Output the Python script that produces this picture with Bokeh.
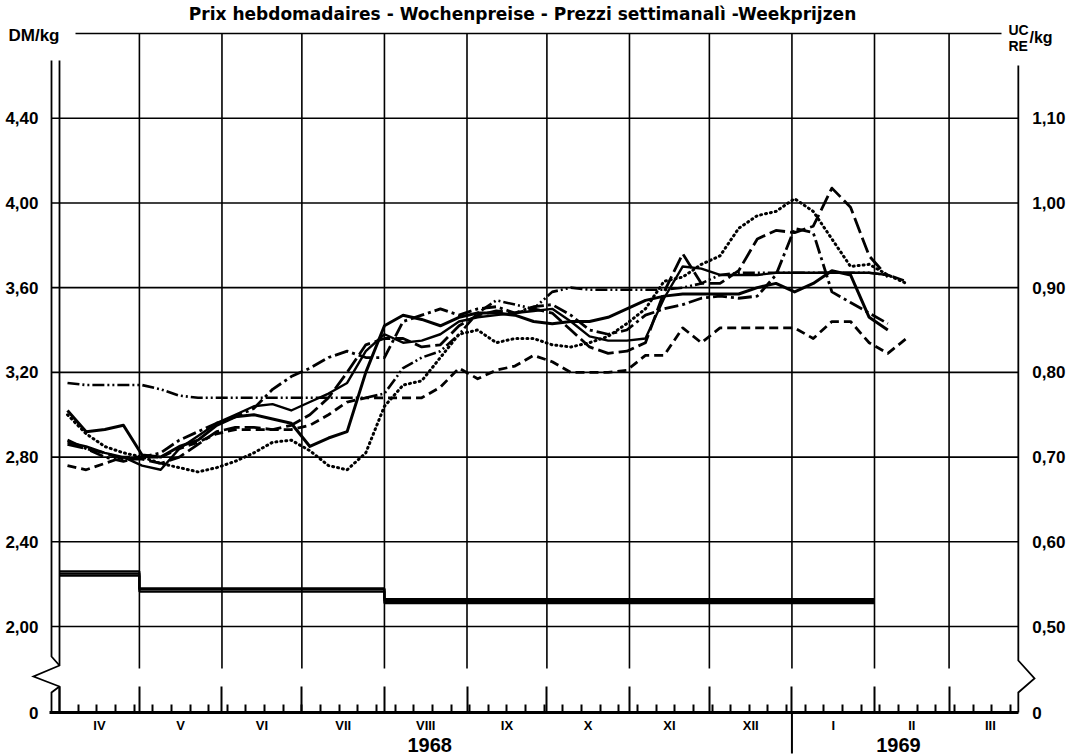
from bokeh.plotting import figure
from bokeh.models import Range1d, LinearAxis, FixedTicker
from bokeh.core.properties import value
from bokeh.embed import file_html
from bokeh.resources import INLINE

# ---------------- data ----------------
TITLE = "Prix hebdomadaires - Wochenpreise - Prezzi  settimanalì -Weekprijzen"
MONTHS = ["IV", "V", "VI", "VII", "VIII", "IX", "X", "XI", "XII", "I", "II", "III"]
MONTH_BOUNDS = [0, 30, 61, 91, 122, 153, 183, 214, 244, 275, 306, 334, 365]  # days since 1 Apr 1968
YEAR_START_DAY = 275
AXIS_END_DAY = 360
YEARS = ["1968", "1969"]
YEAR_DAYS = [139, 315]
WEEK_TICKS = list(range(7, 358, 7))

DM_TICKS = [2.00, 2.40, 2.80, 3.20, 3.60, 4.00, 4.40]
DM_TOP = 4.80
UC_PER_DM = 0.25

# weekly observations (days since 1 Apr 1968)
WEEK_DAYS = list(range(3, 322, 7))

s_dashdotdot = [3.15, 3.14, 3.14, 3.14, 3.14, 3.12, 3.09, 3.08, 3.08, 3.08,
                3.08, 3.08, 3.08, 3.08, 3.08, 3.08, 3.08, 3.10, 3.22, 3.27,
                3.30, 3.38, 3.48, 3.54, 3.52, 3.50, 3.58, 3.60, 3.59, 3.59,
                3.59, 3.59, 3.59, 3.60, 3.62, 3.66, 3.67, 3.67, 3.67, 3.67,
                3.67, 3.67, 3.67, 3.67, 3.66, 3.63]
s_dotted = [3.00, 2.91, 2.85, 2.82, 2.80, 2.77, 2.75, 2.73, 2.75, 2.78,
            2.82, 2.87, 2.88, 2.83, 2.76, 2.74, 2.82, 3.04, 3.14, 3.16,
            3.27, 3.38, 3.40, 3.34, 3.36, 3.36, 3.33, 3.32, 3.34, 3.37,
            3.43, 3.50, 3.63, 3.65, 3.71, 3.75, 3.88, 3.94, 3.96, 4.02,
            3.96, 3.83, 3.70, 3.71, 3.66, 3.62]
s_dashed = [2.76, 2.74, 2.77, 2.80, 2.80, 2.80, 2.84, 2.87, 2.91, 2.93,
            2.93, 2.93, 2.93, 2.95, 3.00, 3.06, 3.08, 3.08, 3.08, 3.08,
            3.13, 3.22, 3.17, 3.21, 3.23, 3.28, 3.25, 3.20, 3.20, 3.20,
            3.21, 3.28, 3.28, 3.41, 3.34, 3.41, 3.41, 3.41, 3.41, 3.41,
            3.36, 3.44, 3.44, 3.34, 3.29, 3.36]
s_solid_a = [3.02, 2.92, 2.93, 2.95, 2.81, 2.80, 2.85, 2.88, 2.95, 2.99,
             3.00, 2.98, 2.96, 2.85, 2.89, 2.92, 3.20, 3.42, 3.47, 3.45,
             3.42, 3.46, 3.48, 3.48, 3.47, 3.44, 3.43, 3.44, 3.44, 3.46,
             3.50, 3.54, 3.56, 3.57, 3.57, 3.57, 3.57, 3.60, 3.62, 3.58,
             3.62, 3.68, 3.66, 3.46, 3.40]
s_solid_b = [2.87, 2.85, 2.82, 2.80, 2.76, 2.74, 2.84, 2.90, 2.96, 3.00,
             3.04, 3.05, 3.02, 3.06, 3.10, 3.15, 3.30, 3.38, 3.34, 3.35,
             3.38, 3.44, 3.46, 3.47, 3.48, 3.49, 3.50, 3.44, 3.37, 3.35,
             3.35, 3.36, 3.55, 3.70, 3.69, 3.66, 3.66, 3.66, 3.67, 3.67,
             3.67, 3.67, 3.67, 3.67, 3.66]
s_longdash = [2.86, 2.84, 2.82, 2.79, 2.79, 2.77, 2.80, 2.86, 2.92, 2.94,
              2.94, 2.93, 2.95, 3.00, 3.08, 3.20, 3.33, 3.36, 3.36, 3.32,
              3.33, 3.42, 3.47, 3.49, 3.48, 3.50, 3.48, 3.40, 3.32, 3.29,
              3.30, 3.34, 3.58, 3.76, 3.62, 3.62, 3.68, 3.83, 3.87, 3.86,
              3.89, 4.07, 3.98, 3.75, 3.65]
s_dashdot = [2.88, 2.84, 2.80, 2.78, 2.80, 2.82, 2.88, 2.92, 2.96, 2.99,
             3.03, 3.12, 3.18, 3.22, 3.27, 3.30, 3.27, 3.27, 3.44, 3.47,
             3.50, 3.47, 3.50, 3.51, 3.48, 3.51, 3.52, 3.47, 3.40, 3.38,
             3.40, 3.47, 3.50, 3.52, 3.55, 3.56, 3.55, 3.56, 3.66, 3.88,
             3.86, 3.58, 3.53, 3.48, 3.43]

# step prices (per period)
STEP_DAYS = [0, 30, 122, 306]
step_a = [2.26, 2.18, 2.13]
step_b = [2.25, 2.175, 2.12]
step_c = [2.24, 2.165, 2.11]

# ---------------- geometry ----------------
W, H = 1071, 756
PX_PER_DAY = 2.6634
PX_PER_DM = 211.79
X_START = -59 / PX_PER_DAY
X_END = X_START + W / PX_PER_DAY
Y_END = DM_TOP + 33 / PX_PER_DM
Y_START = Y_END - H / PX_PER_DM


def dx(px):
    return (px - 59) / PX_PER_DAY


def vy(py):
    return DM_TOP - (py - 33) / PX_PER_DM


ZERO_POS = vy(712)
GAP_TOP = vy(668)

FONT = "Liberation Sans"

p = figure(width=W, height=H, x_range=Range1d(X_START, X_END),
           y_range=Range1d(Y_START, Y_END), output_backend="svg",
           toolbar_location=None, x_axis_location=None, y_axis_location=None,
           min_border=0, outline_line_color=None)
p.grid.grid_line_color = None
p.extra_y_ranges = {"uc": Range1d(Y_START * UC_PER_DM, Y_END * UC_PER_DM)}

GRID = dict(line_color="black", line_width=1.6)
# horizontal grid
p.segment(x0=[dx(51)] * len(DM_TICKS), y0=DM_TICKS, x1=[AXIS_END_DAY] * len(DM_TICKS), y1=DM_TICKS, **GRID)
p.segment(x0=[dx(75)], y0=[DM_TOP], x1=[dx(1001)], y1=[DM_TOP], **GRID)
# vertical grid (month boundaries), broken above the zero line
inner = MONTH_BOUNDS[1:-1]
p.segment(x0=inner, y0=[GAP_TOP] * len(inner), x1=inner, y1=[DM_TOP] * len(inner), **GRID)
p.segment(x0=[YEAR_START_DAY], y0=[ZERO_POS], x1=[YEAR_START_DAY], y1=[vy(753)], line_color="black", line_width=2)

# left double axis with break
AX = dict(line_color="black", line_width=1.8, line_join="miter")
p.line([dx(51), dx(51), dx(59)], [vy(60), vy(656), vy(665)], **AX)
p.line([dx(59), dx(59), dx(33), dx(59), dx(59)], [vy(60), vy(665), vy(676), vy(686), vy(712)], **AX)
p.line([dx(59), dx(51), dx(51)], [vy(686), vy(692), vy(712)], **AX)
# right axis with break
p.line([AXIS_END_DAY, AXIS_END_DAY, dx(1034), AXIS_END_DAY, AXIS_END_DAY],
       [vy(65), vy(660), vy(678), vy(692), vy(712)], **AX)

# step prices
for s in (step_a, step_b, step_c):
    p.step(STEP_DAYS, s + [s[-1]], mode="after", line_color="black", line_width=2.2)

# weekly price series
def draw(vals, **kw):
    p.line(WEEK_DAYS[:len(vals)], vals, line_color="black", line_join="round", **kw)

draw(s_dotted, line_width=3.0, line_dash="1 4", line_cap="round")
draw(s_dashed, line_width=2.8, line_dash="9 5")
draw(s_dashdotdot, line_width=2.6, line_dash="12 3 2 3 2 3")
draw(s_longdash, line_width=2.8, line_dash="16 5")
draw(s_dashdot, line_width=2.8, line_dash="14 4 3 4")
draw(s_solid_b, line_width=2.4)
draw(s_solid_a, line_width=3.0)

# axes
def fmt(v):
    return f"{v:.2f}".replace(".", ",")

left_labels = {t: fmt(t) for t in DM_TICKS}
left_labels[ZERO_POS] = "0"
left_axis = LinearAxis(fixed_location=0, ticker=FixedTicker(ticks=DM_TICKS + [ZERO_POS]),
                       major_label_overrides=left_labels, axis_line_color=None,
                       major_tick_line_color=None, minor_tick_line_color=None,
                       major_label_standoff=15, major_label_text_font=FONT,
                       major_label_text_font_style="bold", major_label_text_font_size="17px",
                       major_label_text_color="black")
p.add_layout(left_axis, "left")

uc_ticks = [t * UC_PER_DM for t in DM_TICKS]
right_labels = {t: fmt(t) for t in uc_ticks}
right_labels[ZERO_POS * UC_PER_DM] = "0"
right_axis = LinearAxis(y_range_name="uc", fixed_location=AXIS_END_DAY,
                        ticker=FixedTicker(ticks=uc_ticks + [ZERO_POS * UC_PER_DM]),
                        major_label_overrides=right_labels, axis_line_color=None,
                        major_tick_line_color=None, minor_tick_line_color=None,
                        major_label_standoff=8, major_label_text_font=FONT,
                        major_label_text_font_style="bold", major_label_text_font_size="17px",
                        major_label_text_color="black")
p.add_layout(right_axis, "right")

bottom_axis = LinearAxis(fixed_location=ZERO_POS, bounds=(dx(49), AXIS_END_DAY),
                         ticker=FixedTicker(ticks=MONTH_BOUNDS[:-1], minor_ticks=WEEK_TICKS),
                         major_tick_in=26, major_tick_out=0, minor_tick_in=8, minor_tick_out=0,
                         major_tick_line_width=2, minor_tick_line_width=2,
                         axis_line_width=3, major_label_text_color=None)
p.add_layout(bottom_axis, "below")

# texts
centers = [(a + b) / 2 for a, b in zip(MONTH_BOUNDS[:-1], MONTH_BOUNDS[1:])]
p.text(x=centers, y=[vy(725)] * len(MONTHS), text=MONTHS, text_font=value(FONT),
       text_font_style="bold", text_font_size=value("13px"), text_align="center",
       text_baseline="middle", text_color="black")
p.text(x=YEAR_DAYS, y=[vy(744)] * 2, text=YEARS, text_font=value(FONT),
       text_font_style="bold", text_font_size=value("20px"), text_align="center",
       text_baseline="middle", text_color="black")
p.text(x=[dx(525)], y=[vy(13)], text=[TITLE], text_font=value("DejaVu Sans"),
       text_font_style="bold", text_font_size=value("17px"), text_align="center",
       text_baseline="middle", text_color="black")
p.text(x=[dx(8)], y=[vy(35)], text=["DM/kg"], text_font=value(FONT), text_font_style="bold",
       text_font_size=value("17px"), text_align="left", text_baseline="middle", text_color="black")
p.text(x=[dx(1008), dx(1008)], y=[vy(29), vy(45)], text=["UC", "RE"], text_font=value(FONT),
       text_font_style="bold", text_font_size=value("14px"), text_align="left",
       text_baseline="middle", text_color="black")
p.text(x=[dx(1029)], y=[vy(37)], text=["/kg"], text_font=value(FONT), text_font_style="bold",
       text_font_size=value("16px"), text_align="left", text_baseline="middle", text_color="black")

open("out.html", "w").write(file_html(p, INLINE))
